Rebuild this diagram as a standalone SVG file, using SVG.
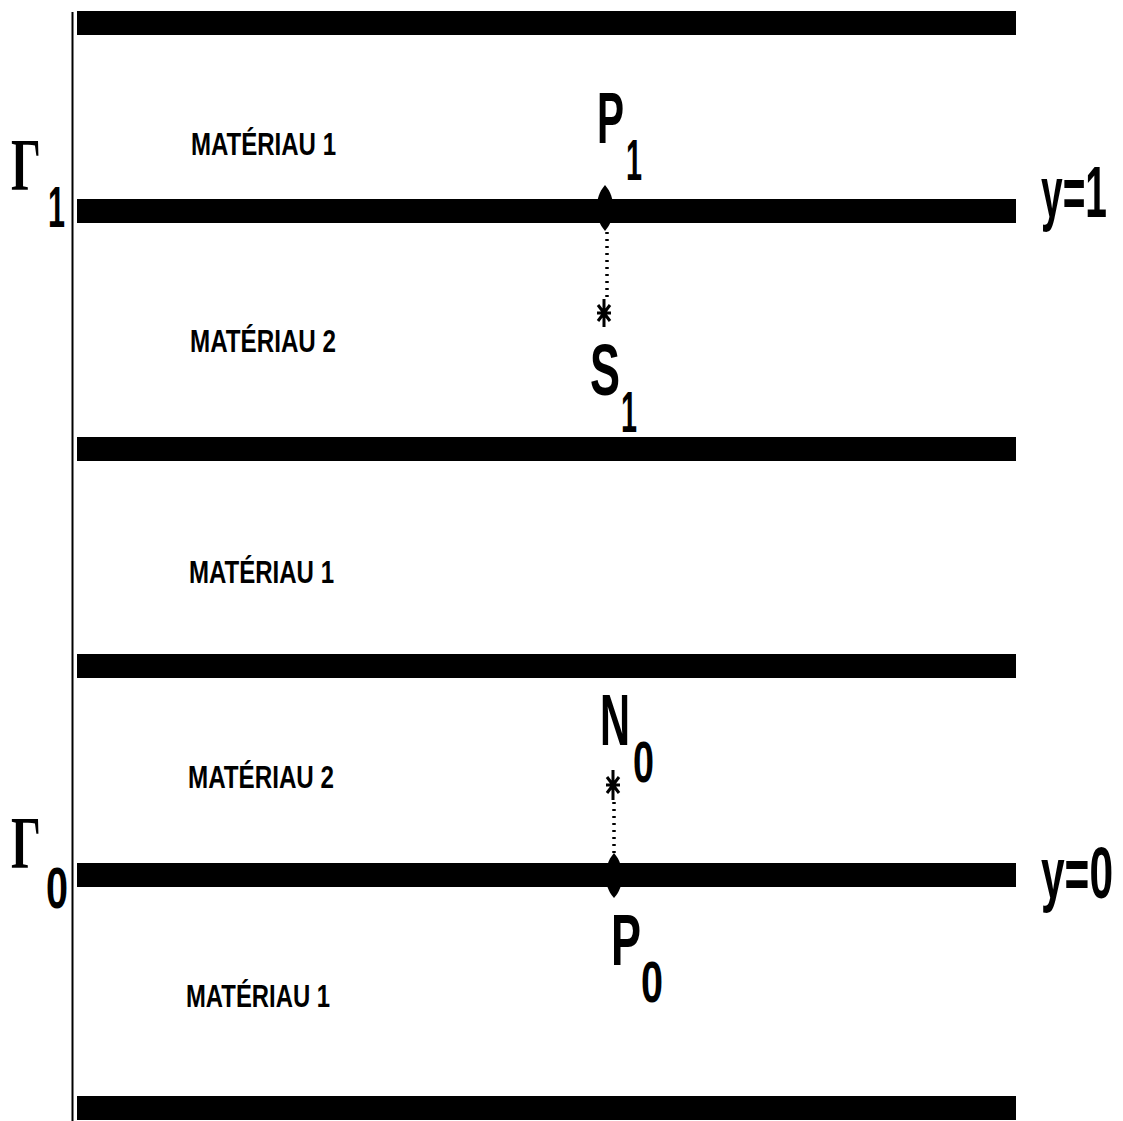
<svg xmlns="http://www.w3.org/2000/svg" width="1123" height="1121" viewBox="0 0 1123 1121">
<style>
.bar{fill:#000}
.lab{font-family:"Liberation Sans",Arial,sans-serif;font-weight:bold;font-size:32px;fill:#000}
.big{font-family:"Liberation Sans",Arial,sans-serif;font-weight:bold;font-size:72px;fill:#000}
.sub{font-family:"Liberation Sans",Arial,sans-serif;font-weight:bold;font-size:57px;fill:#000}
.gam{font-family:"Liberation Serif","Times New Roman",serif;font-weight:bold;font-size:74px;fill:#000}
.dot{stroke:#000;stroke-width:3.5;stroke-dasharray:2 5;fill:none}
.star{stroke:#000;stroke-width:3;fill:none}
</style>
<rect width="1123" height="1121" fill="#fff"/>
<g id="frame">
<line x1="72.5" y1="12" x2="72.5" y2="1121" stroke="#000" stroke-width="2"/>
</g>
<g id="bars">
<rect class="bar" x="77" y="11" width="939" height="24"/>
<rect class="bar" x="77" y="199" width="939" height="24"/>
<rect class="bar" x="77" y="437" width="939" height="24"/>
<rect class="bar" x="77" y="654" width="939" height="24"/>
<rect class="bar" x="77" y="863" width="939" height="24"/>
<rect class="bar" x="77" y="1096" width="939" height="24"/>
</g>
<g id="materials">
<text class="lab" x="191" y="155" textLength="145" lengthAdjust="spacingAndGlyphs">MATÉRIAU 1</text>
<text class="lab" x="190" y="352" textLength="146" lengthAdjust="spacingAndGlyphs">MATÉRIAU 2</text>
<text class="lab" x="189" y="583" textLength="145" lengthAdjust="spacingAndGlyphs">MATÉRIAU 1</text>
<text class="lab" x="188" y="788" textLength="146" lengthAdjust="spacingAndGlyphs">MATÉRIAU 2</text>
<text class="lab" x="186" y="1007" textLength="144" lengthAdjust="spacingAndGlyphs">MATÉRIAU 1</text>
</g>
<g id="gamma1">
<text class="gam" x="11" y="190" textLength="30" lengthAdjust="spacingAndGlyphs">Γ</text>
<text class="sub" x="48" y="227" textLength="17" lengthAdjust="spacingAndGlyphs">1</text>
</g>
<g id="gamma0">
<text class="gam" x="11" y="868" textLength="30" lengthAdjust="spacingAndGlyphs">Γ</text>
<text class="sub" x="46" y="908" textLength="22" lengthAdjust="spacingAndGlyphs">0</text>
</g>
<g id="y1">
<text class="big" x="1041" y="217" textLength="66" lengthAdjust="spacingAndGlyphs">y=1</text>
</g>
<g id="y0">
<text class="big" x="1041" y="898" textLength="72" lengthAdjust="spacingAndGlyphs">y=0</text>
</g>
<g id="connectors">
<line class="dot" x1="607" y1="232" x2="607" y2="302"/>
<line class="dot" x1="614" y1="802" x2="614" y2="853"/>
</g>
<g id="P1">
<path d="M605,185 C611,192 613,199 613,208 C613,217 611,224 605,231 C599,224 597,217 597,208 C597,199 599,192 605,185 Z" fill="#000"/>
<text class="big" x="597" y="143" textLength="27" lengthAdjust="spacingAndGlyphs">P</text>
<text class="sub" x="626" y="180" textLength="16" lengthAdjust="spacingAndGlyphs">1</text>
</g>
<g id="S1">
<path class="star" d="M604,299 V327 M597,313 H611 M598,305 L610,321 M610,305 L598,321"/>
<text class="big" x="590" y="395" textLength="30" lengthAdjust="spacingAndGlyphs">S</text>
<text class="sub" x="621" y="432" textLength="16" lengthAdjust="spacingAndGlyphs">1</text>
</g>
<g id="N0">
<path class="star" d="M613,770 V800 M606,785 H620 M607,777 L619,793 M619,777 L607,793"/>
<text class="big" x="600" y="745" textLength="30" lengthAdjust="spacingAndGlyphs">N</text>
<text class="sub" x="633" y="782" textLength="21" lengthAdjust="spacingAndGlyphs">0</text>
</g>
<g id="P0">
<path d="M614,853 C620,860 622,867 622,876 C622,885 620,891 614,898 C608,891 606,885 606,876 C606,867 608,860 614,853 Z" fill="#000"/>
<text class="big" x="611" y="965" textLength="30" lengthAdjust="spacingAndGlyphs">P</text>
<text class="sub" x="641" y="1002" textLength="22" lengthAdjust="spacingAndGlyphs">0</text>
</g>
</svg>
